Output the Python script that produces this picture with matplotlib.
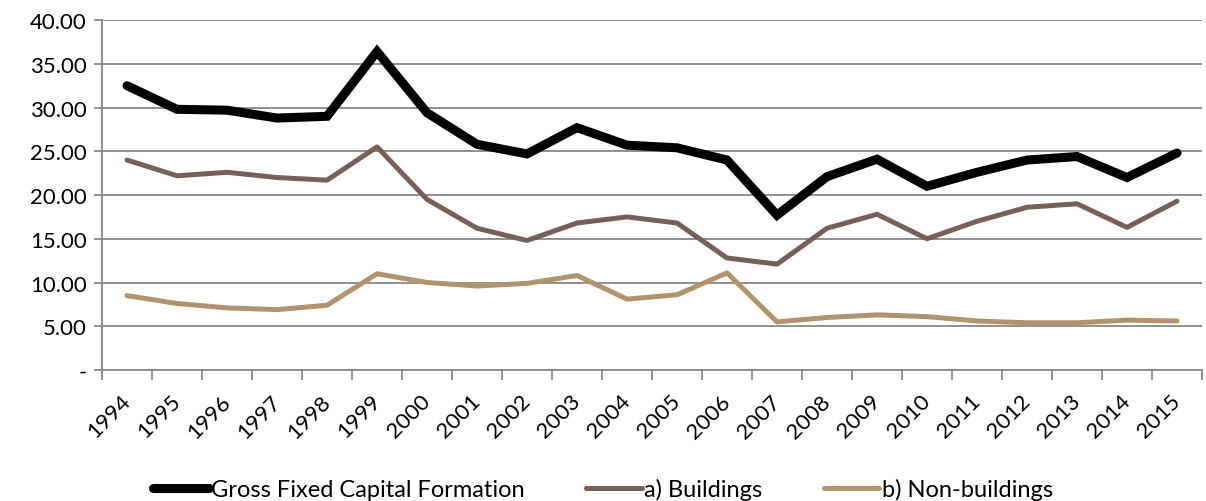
import matplotlib
matplotlib.use("Agg")
import matplotlib.pyplot as plt
from matplotlib.ticker import FixedLocator, FuncFormatter

plt.rcParams['font.family'] = ['Lato', 'DejaVu Sans']

years = [str(y) for y in range(1994, 2016)]
gfcf = [32.5, 29.8, 29.7, 28.8, 29.0, 36.4, 29.4, 25.8, 24.7, 27.7, 25.7, 25.4,
        24.0, 17.7, 22.1, 24.1, 21.0, 22.6, 24.0, 24.4, 22.0, 24.8]
buildings = [24.0, 22.2, 22.6, 22.0, 21.7, 25.5, 19.5, 16.2, 14.8, 16.8, 17.5, 16.8,
             12.8, 12.1, 16.2, 17.8, 15.0, 17.0, 18.6, 19.0, 16.3, 19.3]
nonbuildings = [8.5, 7.6, 7.1, 6.9, 7.4, 11.0, 10.0, 9.6, 9.9, 10.8, 8.1, 8.6,
                11.1, 5.5, 6.0, 6.3, 6.1, 5.6, 5.4, 5.4, 5.7, 5.6]
series_names = ["Gross Fixed Capital Formation", "a) Buildings", "b) Non-buildings"]

fig = plt.figure(figsize=(12.06, 5.02), dpi=100)
ax = fig.add_axes([0.0846, 0.261, 0.9121, 0.697])

x = list(range(len(years)))
ax.plot(x, gfcf, color='#000000', lw=6.5, solid_joinstyle='miter', solid_capstyle='round', label=series_names[0], zorder=3)
ax.plot(x, buildings, color='#74625A', lw=3.6, solid_capstyle='round', label=series_names[1], zorder=3)
ax.plot(x, nonbuildings, color='#AE9570', lw=3.6, solid_capstyle='round', label=series_names[2], zorder=3)

ax.set_xlim(-0.5, len(years) - 0.5)
ax.set_ylim(0, 40)
yt = list(range(0, 45, 5))
ax.set_yticks(yt)
ax.yaxis.set_major_formatter(FuncFormatter(lambda v, p: '-' if v == 0 else f"{v:.2f}"))
ax.grid(axis='y', color='#888888', lw=1.3, zorder=0)
ax.set_axisbelow(True)

ax.set_xticks(x)
ax.set_xticklabels(years, rotation=45, ha='right', va='center', rotation_mode='anchor')
ax.tick_params(axis='x', which='major', length=0, pad=20, labelsize=16)
ax.xaxis.set_minor_locator(FixedLocator([i - 0.5 for i in range(len(years) + 1)]))
ax.tick_params(axis='x', which='minor', length=7, width=1.3, color='#888888')
ax.tick_params(axis='y', length=6, width=1.3, color='#888888', labelsize=16, pad=5)

for s in ['top', 'right']:
    ax.spines[s].set_visible(False)
for s in ['left', 'bottom']:
    ax.spines[s].set_color('#888888')
    ax.spines[s].set_linewidth(1.3)

leg = fig.legend(loc='center', bbox_to_anchor=(0.5, 0.024), ncol=3, frameon=False,
                 fontsize=17, handlelength=2.35, handletextpad=0.1, columnspacing=2.6)

fig.savefig('out.png', dpi=100)
